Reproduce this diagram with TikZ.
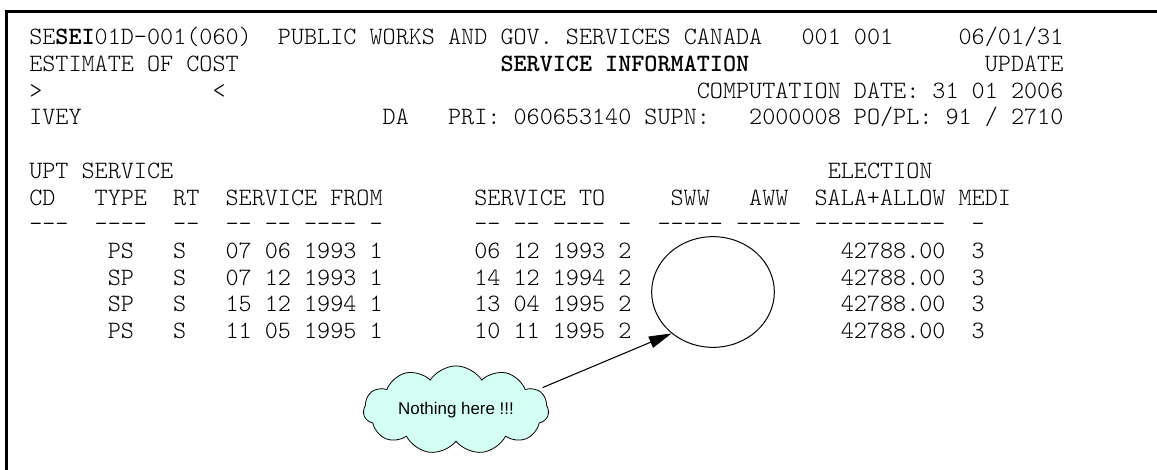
\documentclass[tikz,border=0pt]{standalone}
\usepackage{fontspec}
\newfontfamily\arialfont{Liberation Sans}
\usetikzlibrary{matrix,positioning,shapes.geometric,shapes.symbols,arrows.meta}
\definecolor{cloudfill}{RGB}{212,255,244}
% screen font: light typewriter, bold for highlighted fields
\newcommand\scrfont{\ttfamily\fontseries{l}\fontsize{18.7}{20}\selectfont\frenchspacing}
\newcommand\hi[1]{{\bfseries #1}}
\newcommand\bl[1]{\hspace*{#1\fontcharwd\font`0}}
\tikzset{
  screen/.style={matrix of nodes, nodes in empty cells, inner sep=0pt, row sep=0pt,
    nodes={anchor=base west, inner sep=0pt, text height=14pt, text depth=6.03pt, font=\scrfont}},
  hole/.style={ellipse, draw, line width=0.75pt, minimum width=92pt, minimum height=83pt, inner sep=0pt},
  note/.style={cloud, draw, fill=cloudfill, line width=0.6pt, cloud puffs=11, cloud puff arc=115,
    aspect=2.5, minimum width=139pt, minimum height=56pt, inner sep=0pt,
    font=\arialfont\fontsize{12.7}{14}\selectfont},
  pointer/.style={-{Triangle[length=17pt,width=9pt]}, line width=0.8pt}
}
\begin{document}
\begin{tikzpicture}[x=0.75pt,y=-0.75pt]
  \useasboundingbox (0,0) rectangle (1157,469);
  % frame
  \draw[line width=2.25pt] (6,472) -- (6,11.5) -- (1160,11.5);
  % screen text
  \matrix (scr) [screen, anchor=north west] at (29,25.9) {
    SE\hi{SEI}01D-001(060)\bl{2}PUBLIC WORKS AND GOV. SERVICES CANADA\bl{3}001 001\bl{5}06/01/31 \\
    ESTIMATE OF COST\bl{20}\hi{SERVICE INFORMATION}\bl{18}UPDATE \\
    >\bl{13}<\bl{36}COMPUTATION DATE: 31 01 2006 \\
    IVEY\bl{23}DA\bl{3}PRI: 060653140 SUPN:\bl{3}2000008 PO/PL: 91 / 2710 \\
    \\
    UPT SERVICE\bl{50}ELECTION \\
    CD\bl{3}TYPE\bl{2}RT\bl{2}SERVICE FROM\bl{7}SERVICE TO\bl{5}SWW\bl{3}AWW\bl{2}SALA+ALLOW MEDI \\
    ---\bl{2}----\bl{2}--\bl{2}-- -- ---- -\bl{7}-- -- ---- -\bl{2}----- ----- ----------\bl{2}- \\
    \bl{6}PS\bl{3}S\bl{3}07 06 1993 1\bl{7}06 12 1993 2\bl{16}42788.00\bl{2}3 \\
    \bl{6}SP\bl{3}S\bl{3}07 12 1993 1\bl{7}14 12 1994 2\bl{16}42788.00\bl{2}3 \\
    \bl{6}SP\bl{3}S\bl{3}15 12 1994 1\bl{7}13 04 1995 2\bl{16}42788.00\bl{2}3 \\
    \bl{6}PS\bl{3}S\bl{3}11 05 1995 1\bl{7}10 11 1995 2\bl{16}42788.00\bl{2}3 \\
  };
  % empty fields and remark
  \node (gap) [hole] at (713,292) {};
  \node (remark) [note] at (456,410) {Nothing here !!!};
  \draw[pointer, shorten <=4pt] (remark.14) -- (gap.225);
\end{tikzpicture}
\end{document}
